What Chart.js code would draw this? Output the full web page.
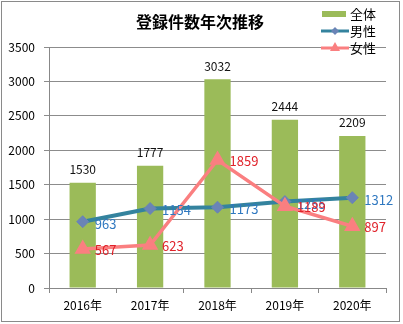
<!DOCTYPE html>
<html>
<head>
<meta charset="utf-8">
<script src="https://cdn.jsdelivr.net/npm/chart.js@4/dist/chart.umd.min.js"></script>
<style>
  html, body { margin: 0; padding: 0; background: #fff; }
  #wrap { width: 403px; height: 324px; position: relative; }
</style>
</head>
<body>
<div id="wrap"><canvas id="trend" width="403" height="324"></canvas></div>
<script>
const years = ["2016年", "2017年", "2018年", "2019年", "2020年"];
const totalCounts = [1530, 1777, 3032, 2444, 2209];
const maleCounts = [963, 1154, 1173, 1255, 1312];
const femaleCounts = [567, 623, 1859, 1189, 897];
const seriesNames = ["全体", "男性", "女性"];
const chartTitle = "登録件数年次推移";

const FONT = '"Noto Sans CJK JP", "Noto Sans", sans-serif';
const GREEN = "#9bbb59";
const TEAL = "#34839e";
const PINK = "#fa7f80";

// value labels, title, legend and the frame are drawn by hand
const decorations = {
  id: "decorations",
  afterDatasetsDraw(chart) {
    const ctx = chart.ctx;
    ctx.save();
    ctx.font = "12px " + FONT;
    ctx.textBaseline = "middle";

    // totals above the bars
    ctx.fillStyle = "#111";
    ctx.textAlign = "center";
    chart.getDatasetMeta(0).data.forEach((bar, i) => {
      ctx.fillText(String(totalCounts[i]), bar.x, bar.y - 13);
    });

    // line values to the right of each point
    ctx.textAlign = "left";
    ctx.font = "13px " + FONT;
    ctx.fillStyle = "#2f78c0";
    chart.getDatasetMeta(1).data.forEach((pt, i) => {
      ctx.fillText(String(maleCounts[i]), pt.x + 12, pt.y + 2);
    });
    ctx.fillStyle = "#e0222a";
    chart.getDatasetMeta(2).data.forEach((pt, i) => {
      ctx.fillText(String(femaleCounts[i]), pt.x + 12, pt.y + 1);
    });

    // title
    ctx.fillStyle = "#000";
    ctx.textAlign = "center";
    ctx.font = "bold 16px " + FONT;
    ctx.fillText(chartTitle, 200, 22);

    // legend
    ctx.font = "13px " + FONT;
    ctx.textAlign = "left";
    const lx = 321, rows = [14, 31, 48];
    ctx.fillStyle = GREEN;
    ctx.fillRect(lx + 1, rows[0] - 3, 24, 6);
    ctx.strokeStyle = TEAL;
    ctx.lineWidth = 3;
    ctx.beginPath(); ctx.moveTo(lx, rows[1]); ctx.lineTo(lx + 28, rows[1]); ctx.stroke();
    ctx.fillStyle = "#6a84b6";
    ctx.beginPath();
    ctx.moveTo(lx + 14, rows[1] - 4); ctx.lineTo(lx + 18, rows[1]);
    ctx.lineTo(lx + 14, rows[1] + 4); ctx.lineTo(lx + 10, rows[1]);
    ctx.closePath(); ctx.fill();
    ctx.strokeStyle = PINK;
    ctx.beginPath(); ctx.moveTo(lx, rows[2]); ctx.lineTo(lx + 28, rows[2]); ctx.stroke();
    ctx.fillStyle = PINK;
    ctx.beginPath();
    ctx.moveTo(lx + 14, rows[2] - 6); ctx.lineTo(lx + 19, rows[2] + 3);
    ctx.lineTo(lx + 9, rows[2] + 3); ctx.closePath(); ctx.fill();
    ctx.fillStyle = "#000";
    seriesNames.forEach((name, i) => ctx.fillText(name, lx + 29, rows[i]));

    // outer frame
    ctx.strokeStyle = "#8a8a8a";
    ctx.lineWidth = 1;
    ctx.strokeRect(1.5, 1.5, 398, 320);
    ctx.restore();
  }
};

new Chart(document.getElementById("trend"), {
  data: {
    labels: years,
    datasets: [
      {
        type: "bar",
        label: seriesNames[0],
        data: totalCounts,
        backgroundColor: GREEN,
        barPercentage: 0.39,
        categoryPercentage: 1,
        order: 3
      },
      {
        type: "line",
        label: seriesNames[1],
        data: maleCounts,
        borderColor: TEAL,
        borderWidth: 4,
        pointStyle: "rectRot",
        pointRadius: 6,
        pointBackgroundColor: "#6a84b6",
        pointBorderColor: "#6a84b6",
        pointBorderWidth: 1,
        tension: 0,
        order: 2
      },
      {
        type: "line",
        label: seriesNames[2],
        data: femaleCounts,
        borderColor: PINK,
        borderWidth: 3.5,
        pointStyle: "triangle",
        pointRadius: 6,
        pointBackgroundColor: PINK,
        pointBorderColor: PINK,
        tension: 0,
        order: 1
      }
    ]
  },
  options: {
    responsive: false,
    animation: false,
    layout: { padding: { top: 47, right: 17, left: 0, bottom: 0 } },
    plugins: {
      legend: { display: false },
      title: { display: false },
      tooltip: { enabled: false }
    },
    scales: {
      x: {
        offset: true,
        grid: { display: true, offset: true, drawOnChartArea: false, tickLength: 5, color: "#888" },
        border: { color: "#888" },
        ticks: { color: "#000", font: { family: FONT, size: 12 }, padding: 5 },
        afterFit(scale) { scale.height = 36; }
      },
      y: {
        min: 0,
        max: 3500,
        ticks: {
          stepSize: 500,
          color: "#000",
          font: { family: FONT, size: 12 },
          padding: 9,
          callback: (v) => String(v)
        },
        grid: { color: "#8c8c8c", tickLength: 5 },
        border: { color: "#888" },
        afterFit(scale) { scale.width = 49; }
      }
    }
  },
  plugins: [decorations]
});
</script>
</body>
</html>
